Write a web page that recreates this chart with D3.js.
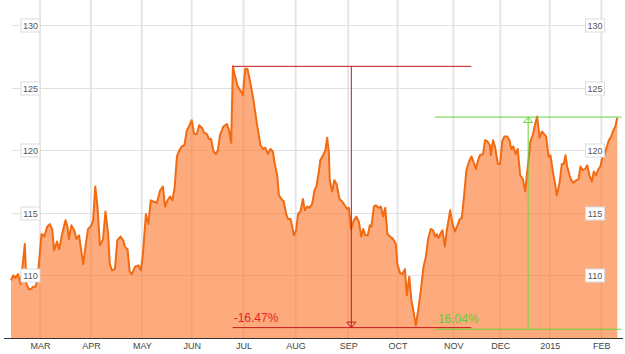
<!DOCTYPE html>
<html>
<head>
<meta charset="utf-8">
<script src="https://cdn.jsdelivr.net/npm/d3@7"></script>
<style>
  body { margin: 0; background: #fff; }
  svg { display: block; font-family: "Liberation Sans", Arial, sans-serif; }
</style>
</head>
<body>
<div id="chart"></div>
<script>
// trading-day position (0 = first session shown) and close
const days = [0,0.9,1.8,2.9,4.0,5.7,6.4,7.3,8.2,9.1,10.1,10.9,12.6,13.7,15.0,16.0,17.0,17.8,19.0,19.9,21.1,22.5,23.3,23.9,24.9,26.3,27.0,28.1,29.8,31.1,31.8,33.2,33.9,34.8,35.7,36.7,38.0,39.0,40.1,40.8,41.7,42.9,43.9,45.2,46.3,47.0,48.1,49.0,49.9,
  51.2,52.6,53.6,54.4,55.7,56.7,57.7,58.8,60.2,61.6,62.7,63.6,64.6,65.7,66.6,67.5,68.5,69.5,70.5,71.6,72.6,73.5,74.6,75.6,76.7,77.7,78.8,79.7,80.8,81.8,82.6,83.6,84.6,85.4,86.3,87.7,89.1,90.0,90.9,91.6,92.5,93.6,94.9,95.7,96.7,97.6,98.7,100.1,
  101.6,103.0,104.0,105.0,106.0,107.1,108.1,108.9,109.9,110.6,111.6,112.6,113.6,114.4,115.4,116.1,116.8,117.7,118.5,119.5,120.5,121.3,122.3,123.2,124.3,125.3,126.1,127.1,127.7,129.1,129.8,130.5,131.2,131.6,132.6,133.5,134.4,135.6,136.7,137.8,138.8,139.5,140.4,141.5,142.6,143.6,144.6,145.4,146.3,147.3,148.1,148.8,149.8,
  150.6,151.6,152.7,153.6,154.5,155.4,156.5,157.8,158.9,159.5,160.6,161.6,162.6,163.4,164.4,165.3,166.1,167.1,168.1,169.2,170.3,171.3,172.2,173.3,174.3,175.0,175.8,176.5,177.2,178.1,179.1,179.9,181.3,182.3,183.2,184.3,185.3,186.1,187.1,188.0,189.1,190.1,190.9,191.9,192.8,193.6,194.9,195.7,196.7,197.7,198.1,199.0,199.8,
  201.0,201.9,202.8,203.7,204.8,205.8,206.5,207.4,208.3,209.2,210.2,211.3,212.3,213.0,213.6,214.4,215.4,216.4,217.2,218.2,219.2,220.0,220.9,221.9,222.7,223.7,224.7,225.3,226.4,227.4,228.2,228.9,229.6,230.6,231.3,232.2,233.3,234.3,235.1,236.1,237.0,237.9,238.8,239.8,240.6,241.6,242.5,243.3,244.2,245.0,246.0,246.8,247.8,248.5,249.5,250.3];

const closes = [109.6,110.0,109.8,110.1,109.3,112.5,109.3,108.9,108.9,109.1,109.1,109.6,113.3,113.1,113.9,114.1,113.7,112.0,112.7,112.1,113.3,114.4,113.9,112.9,114.0,113.5,112.9,113.2,110.9,112.8,113.7,114.0,114.4,117.1,115.5,112.4,112.9,115.1,113.3,110.9,110.4,110.5,112.8,113.1,112.8,112.3,112.1,110.3,110.1,
  110.7,110.8,110.4,111.6,114.9,114.1,116.0,115.9,115.8,116.8,117.1,115.5,116.0,116.3,116.0,116.9,119.5,120.0,120.3,120.4,121.6,121.9,122.4,121.3,121.3,122.0,121.8,121.4,121.3,120.9,120.9,119.9,119.7,120.0,121.2,121.9,122.1,121.6,120.6,126.7,125.9,125.1,124.7,124.4,126.5,126.5,125.5,124.0,
  122.0,120.4,120.1,120.2,119.7,120.1,119.9,118.9,118.0,116.4,116.1,115.9,114.9,114.5,114.5,113.9,113.2,113.6,114.9,115.1,116.1,115.2,115.5,115.4,115.7,116.8,117.1,118.3,119.2,119.7,120.0,121.0,119.9,117.6,116.7,117.6,117.3,116.1,115.9,115.6,115.3,115.4,113.7,114.4,114.7,114.3,113.1,113.7,113.2,113.2,114.0,113.9,115.5,
  115.6,115.4,115.5,114.7,115.4,113.3,113.1,112.9,112.5,110.9,110.2,110.1,110.5,108.4,109.9,108.0,107.2,106.0,107.2,108.8,110.7,111.5,112.9,113.7,113.6,113.1,113.3,113.0,113.3,113.6,112.3,113.6,115.2,114.1,113.5,114.0,114.5,114.6,116.5,118.4,119.1,119.5,119.1,118.5,119.2,119.6,119.7,120.8,120.7,120.4,119.6,120.8,120.3,
  118.9,118.9,120.7,121.1,121.1,120.8,120.1,120.3,119.7,120.1,118.0,117.7,116.7,118.1,119.1,120.7,121.2,122.1,122.7,121.0,121.5,121.3,121.1,119.5,119.6,118.3,117.2,116.4,117.3,118.9,118.9,119.6,118.7,118.0,117.6,117.4,117.6,117.7,118.7,118.4,118.5,118.8,118.0,117.5,118.3,118.0,118.5,118.7,119.5,119.6,120.3,120.8,121.1,121.5,121.9,122.6];

// month ticks (first session of each month)
const monthLabels = ["MAR", "APR", "MAY", "JUN", "JUL", "AUG", "SEP", "OCT", "NOV", "DEC", "2015", "FEB"];
const monthDays = [12, 33, 54, 74.6, 96, 117.5, 139.2, 159.6, 182.6, 202, 222.4, 243.7];

const yTicks = [110, 115, 120, 125, 130];

// drawdown (red) and recovery (green) measurements: [start, arrow, end] days
const drawdownDays = [91.5, 140.5, 190];
const drawdownValues = [126.7, 105.83];
const drawdownLabel = "-16.47%";
const recoveryDays = [175, 213.5, 252];
const recoveryValues = [105.7, 122.65];
const recoveryLabel = "16.04%";

const W = 625, H = 354, bottom = 338;

const svg = d3.select("#chart").append("svg")
  .attr("width", W)
  .attr("height", H);

const x = d3.scaleLinear().domain([0, 251]).range([11, 619]);
const y = d3.scaleLinear().domain([105, 132]).range([bottom, 0]);

const data = days.map((d, i) => ({ day: d, close: closes[i] }));

// grid
svg.append("g")
  .selectAll("line")
  .data(monthDays)
  .join("line")
  .attr("x1", d => x(d)).attr("x2", d => x(d))
  .attr("y1", 0).attr("y2", bottom)
  .attr("stroke", "#e6e6e6")
  .attr("stroke-width", 2);

svg.append("g")
  .selectAll("line")
  .data(yTicks)
  .join("line")
  .attr("x1", 12).attr("x2", 604)
  .attr("y1", d => Math.round(y(d)) + 0.5).attr("y2", d => Math.round(y(d)) + 0.5)
  .attr("stroke", "#e0e0e0");

// price area + line
svg.append("path")
  .datum(data)
  .attr("fill", "#fc7c35")
  .attr("fill-opacity", 0.65)
  .attr("d", d3.area().x(d => x(d.day)).y0(bottom).y1(d => y(d.close)));

svg.append("path")
  .datum(data)
  .attr("fill", "none")
  .attr("stroke", "#f26a12")
  .attr("stroke-width", 2)
  .attr("stroke-linejoin", "round")
  .attr("d", d3.line().x(d => x(d.day)).y(d => y(d.close)));

// measurement markers
function drawMeasure(dd, vals, label, lineColor, textColor, down) {
  const g = svg.append("g").attr("stroke", lineColor).attr("fill", "none");
  const hi = y(vals[0]), lo = y(vals[1]);
  const yTop = Math.min(hi, lo), yBot = Math.max(hi, lo);
  g.append("line").attr("x1", x(dd[0])).attr("x2", x(dd[2])).attr("y1", yTop).attr("y2", yTop);
  g.append("line").attr("x1", x(dd[0])).attr("x2", x(dd[2])).attr("y1", yBot).attr("y2", yBot);
  const xv = x(dd[1]);
  g.append("line").attr("x1", xv).attr("x2", xv).attr("y1", yTop).attr("y2", yBot);
  // open arrow head
  const tipY = down ? yBot : yTop;
  const baseY = down ? yBot - 5.5 : yTop + 5.5;
  g.append("path")
    .attr("d", `M${xv - 4.5},${baseY}L${xv + 4.5},${baseY}L${xv},${tipY}Z`);
  svg.append("text")
    .attr("x", x(dd[0]) + (down ? 1 : 3))
    .attr("y", yBot - 6)
    .attr("fill", textColor)
    .style("font-size", "12px")
    .text(label);
}
drawMeasure(drawdownDays, drawdownValues, drawdownLabel, "#c8171e", "#e3262a", true);
drawMeasure(recoveryDays, recoveryValues, recoveryLabel, "#66d43a", "#5ccf2e", false);

// y labels on both sides
[30.5, 595].forEach(cx => {
  const lab = svg.append("g")
    .selectAll("g")
    .data(yTicks)
    .join("g")
    .attr("transform", d => `translate(${cx},${Math.round(y(d)) + 0.5})`);
  lab.append("rect")
    .attr("x", -9.5).attr("y", -6.5)
    .attr("width", 19).attr("height", 13)
    .attr("fill", "#fff")
    .attr("stroke", "#dcdcdc");
  lab.append("text")
    .attr("text-anchor", "middle")
    .attr("dy", "0.35em")
    .attr("fill", "#555")
    .style("font-size", "9px")
    .text(d => d);
});

// bottom axis
svg.append("line")
  .attr("x1", 4).attr("x2", 623)
  .attr("y1", bottom + 0.5).attr("y2", bottom + 0.5)
  .attr("stroke", "#333");

const xAxis = svg.append("g")
  .attr("transform", `translate(0,${bottom})`)
  .call(d3.axisBottom(x)
    .tickValues(monthDays)
    .tickSize(0)
    .tickPadding(5)
    .tickFormat((d, i) => monthLabels[i]));
xAxis.select(".domain").remove();
xAxis.selectAll("text")
  .attr("fill", "#444")
  .style("font-size", "9px")
  .style("font-family", "'Liberation Sans', Arial, sans-serif");
</script>
</body>
</html>
